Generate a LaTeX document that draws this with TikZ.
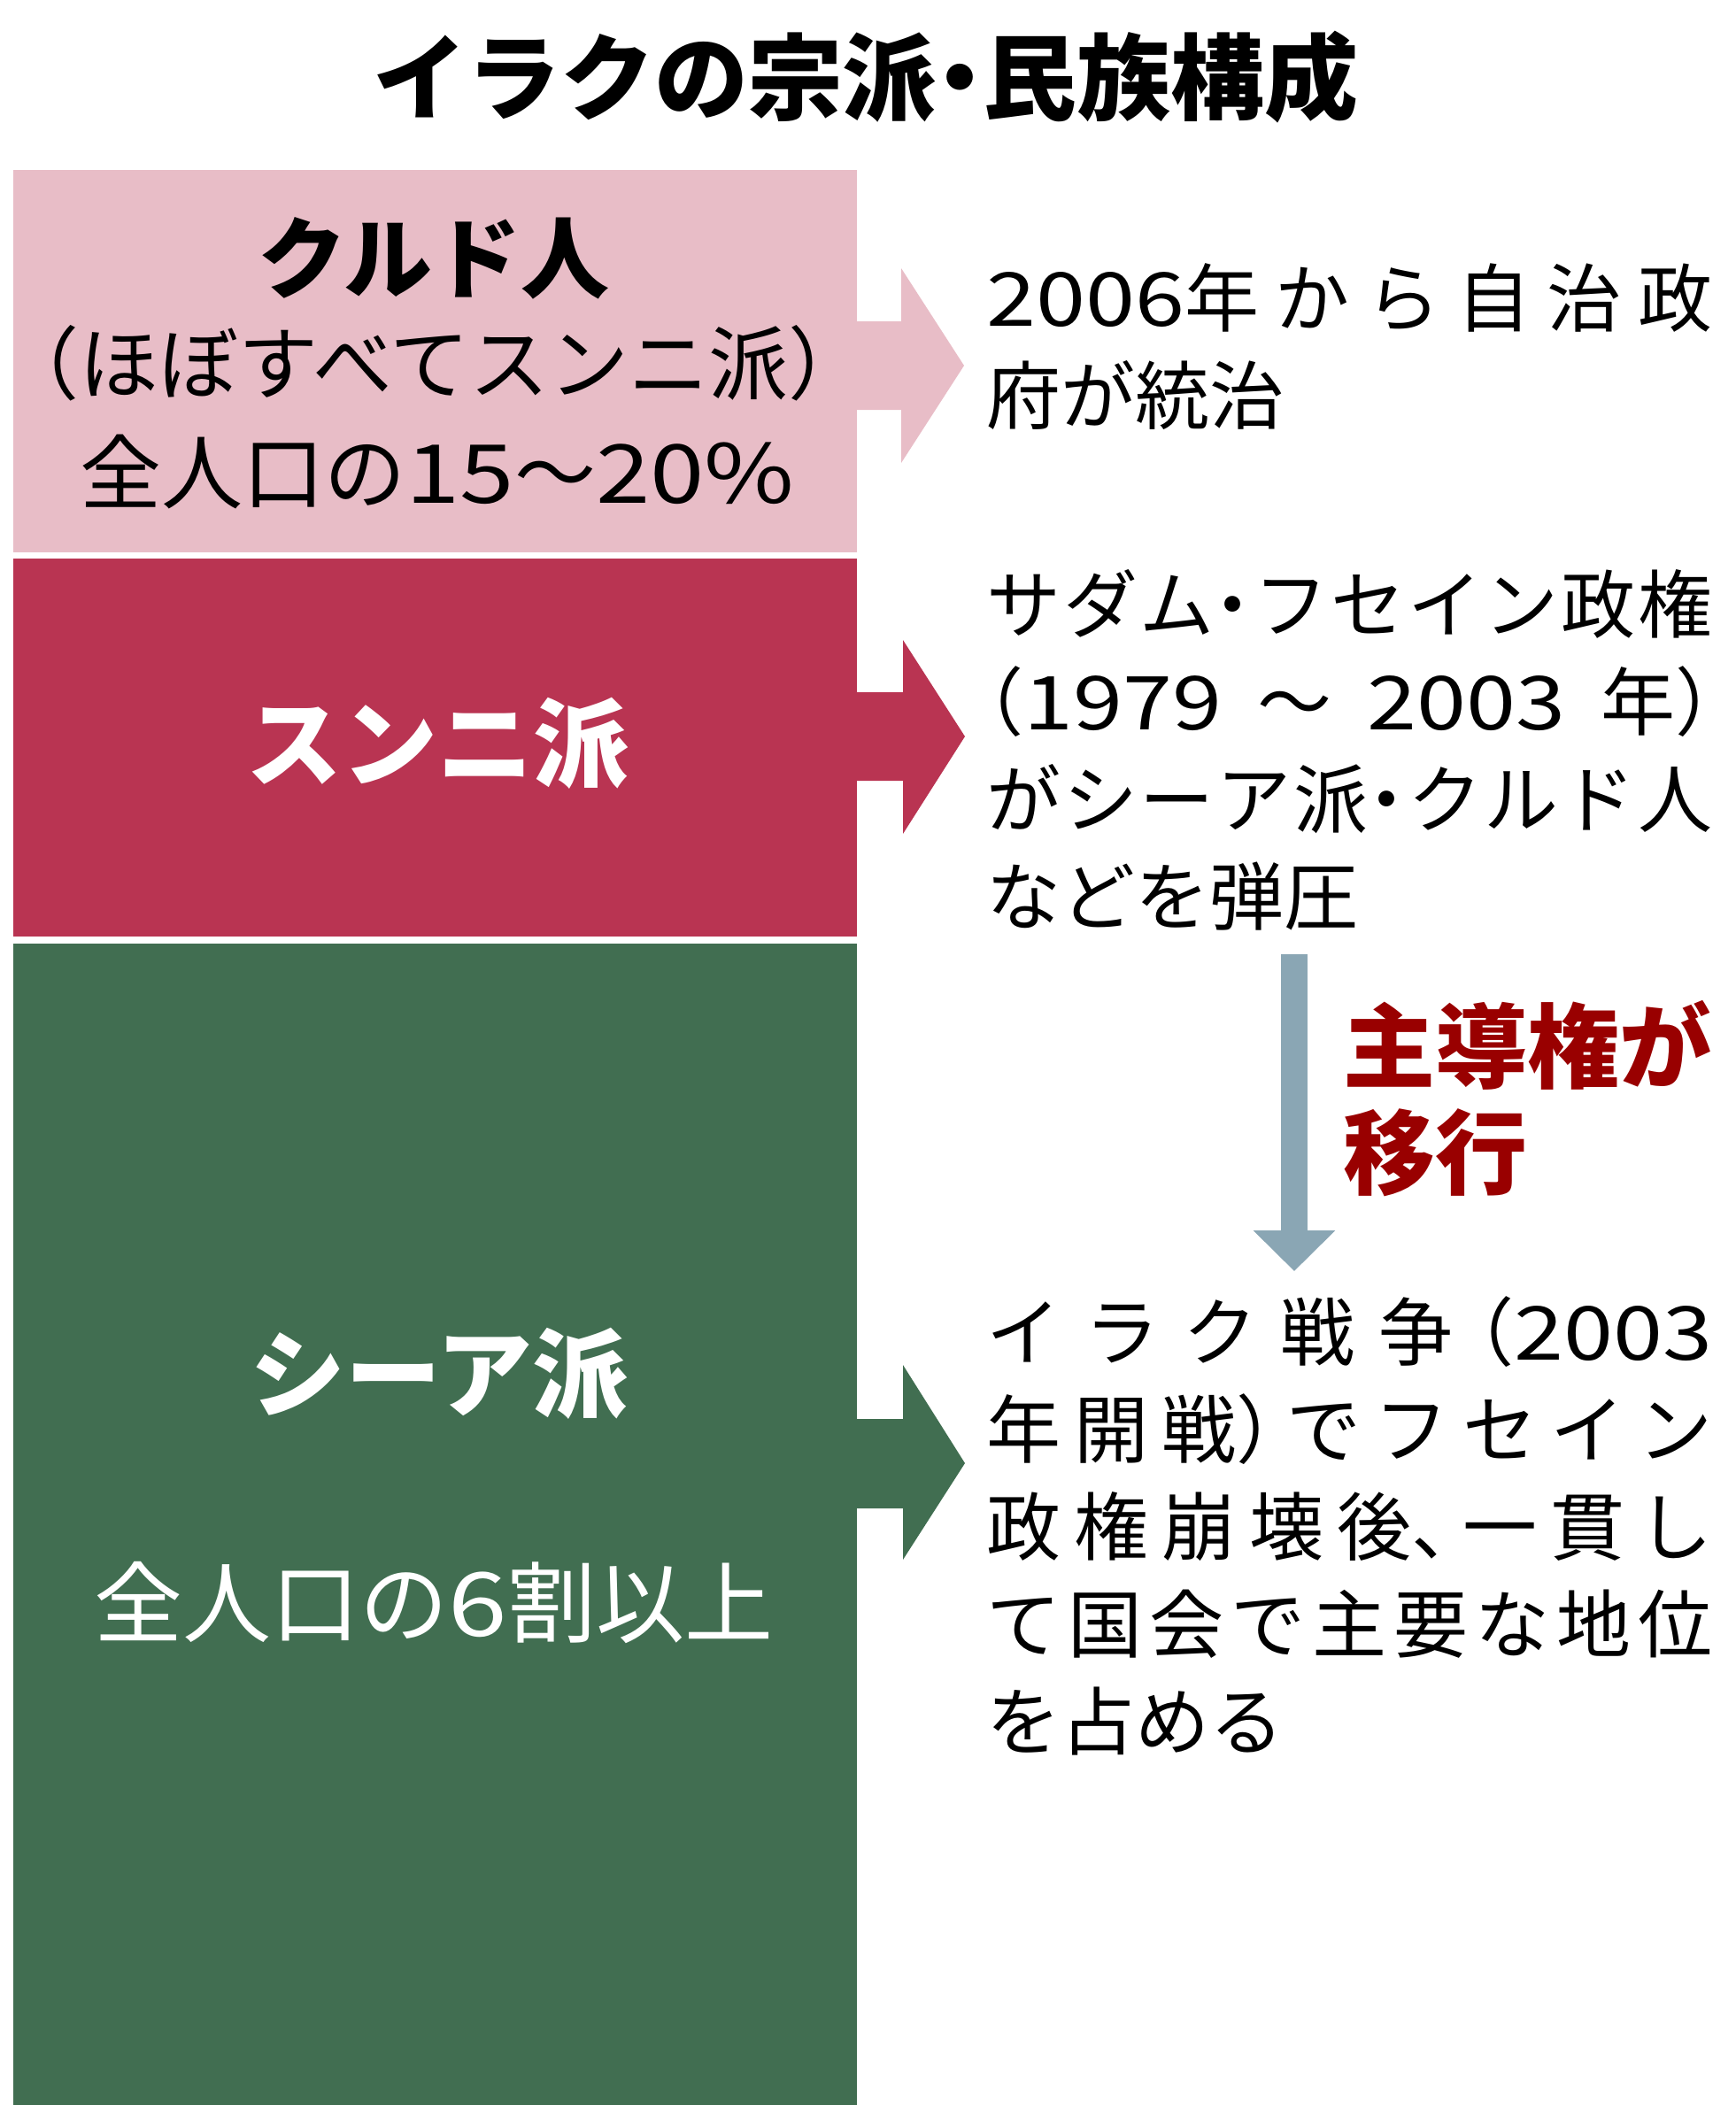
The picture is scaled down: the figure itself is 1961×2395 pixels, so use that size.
\documentclass[tikz,border=0pt]{standalone}
\usepackage{fontspec}
\setmainfont{Noto Sans CJK JP}[RawFeature=+halt]
\newfontfamily\widedigits{Noto Sans CJK JP}[FakeStretch=1.2]
\usetikzlibrary{arrows.meta}
\XeTeXlinebreaklocale "ja"
\XeTeXlinebreakskip=0pt plus 40pt
\definecolor{kurdpink}{HTML}{E8BDC7}
\definecolor{sunnired}{HTML}{B93452}
\definecolor{shiagreen}{HTML}{416E51}
\definecolor{shiftgray}{HTML}{8AA6B4}
\definecolor{shiftred}{HTML}{990000}
\newcommand{\wnum}[1]{{\widedigits #1}}
\newcommand{\spreadgap}{\hskip 0pt plus 20pt\relax}
\begin{document}
\begin{tikzpicture}[x=0.5pt,y=-0.5pt,
    label/.style={inner sep=0pt, align=center},
    note/.style={inner sep=0pt, anchor=north west, text width=410pt, align=justify, font=\fontsize{42}{55}\selectfont}]
    \useasboundingbox (0,0) rectangle (1961,2395);
    \fill[kurdpink] (15,192) rectangle (968,624);
    \fill[sunnired] (15,631) rectangle (968,1058);
    \fill[shiagreen] (15,1066) rectangle (968,2378);
    \fill[kurdpink] (968,363) -- (1018,363) -- (1018,303) -- (1089,413) -- (1018,523) -- (1018,463) -- (968,463) -- cycle;
    \fill[sunnired] (968,782) -- (1020,782) -- (1020,723) -- (1090,832) -- (1020,942) -- (1020,882) -- (968,882) -- cycle;
    \fill[shiagreen] (968,1603) -- (1020,1603) -- (1020,1542) -- (1090,1653) -- (1020,1762) -- (1020,1704) -- (968,1704) -- cycle;
    \node[label, font=\fontsize{53}{60}\selectfont\bfseries] (title) at (978,87) {イラクの宗派・民族構成};
    \node[label, font=\fontsize{50}{60}\selectfont\bfseries] (kurdname) at (490,292) {クルド人};
    \node[label, font=\fontsize{45}{50}\selectfont] (kurdsect) at (490,410) {（ほぼすべてスンニ派）};
    \node[label, font=\fontsize{46}{55}\selectfont] (kurdshare) at (494,533) {全人口の\wnum{15}～\wnum{20\%}};
    \node[label, text=white, font=\fontsize{54}{60}\selectfont\bfseries] (sunniname) at (494,840) {スンニ派};
    \node[label, text=white, font=\fontsize{54}{60}\selectfont\bfseries] (shianame) at (496,1552) {シーア派};
    \node[label, text=white, font=\fontsize{50}{60}\selectfont] (shiashare) at (490,1811) {全人口の\wnum{6}割以上};
    \node[note] (kurdnote) at (1114,297) {\wnum{2006}年から自治政\linebreak 府が統治};
    \node[note] (sunninote) at (1114,643) {サダム・フセイン政権\linebreak （\wnum{1979}\spreadgap～\spreadgap\wnum{2003}\spreadgap 年）\linebreak がシーア派・クルド人\linebreak などを弾圧};
    \node[note] (shianote) at (1114,1464) {イラク戦争（\wnum{2003}\linebreak 年開戦）でフセイン\linebreak 政権崩壊後、一貫し\linebreak て国会で主要な地位\linebreak を占める};
    \coordinate (shiftTop) at (1462,1078);
    \coordinate (shiftEnd) at (1462,1436);
    \draw[shiftgray, line width=15pt, -{Triangle[width=45pt,length=23pt]}] (shiftTop) -- (shiftEnd);
    \node[anchor=north west, inner sep=0pt, align=left, text=shiftred, font=\fontsize{52}{60}\selectfont\bfseries] (shiftlabel) at (1517,1130) {主導権が\\移行};
\end{tikzpicture}
\end{document}
